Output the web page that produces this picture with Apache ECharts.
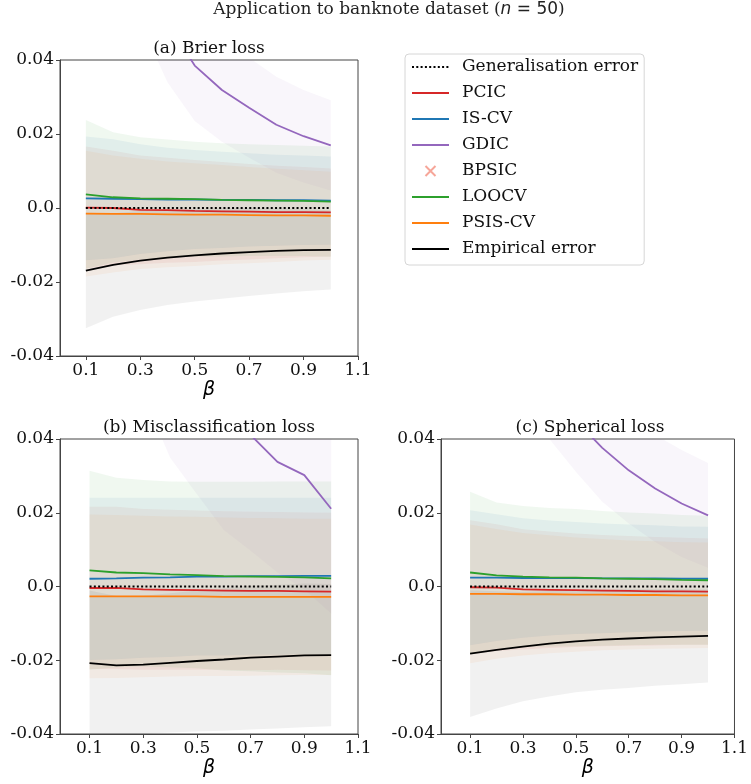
<!DOCTYPE html>
<html>
<head>
<meta charset="utf-8">
<script src="https://cdn.jsdelivr.net/npm/echarts@6/dist/echarts.min.js"></script>
<style>html,body{margin:0;padding:0;background:#fff}#c{width:751px;height:784px}</style>
</head>
<body>
<div id="c"></div>
<script>
const beta = [0.1, 0.2, 0.3, 0.4, 0.5, 0.6, 0.7, 0.8, 0.9, 1.0];
const xTicks = [0.1, 0.3, 0.5, 0.7, 0.9, 1.1];
const yTicks = [-0.04, -0.02, 0, 0.02, 0.04];
const generalisation = [0, 0, 0, 0, 0, 0, 0, 0, 0, 0];

// (a) Brier loss
const pcicA   = [0.0001, 0.0000, -0.0005, -0.0006, -0.0008, -0.0009, -0.0010, -0.0011, -0.0011, -0.0012];
const pcicA_sd = [0.0165, 0.0155, 0.0147, 0.0142, 0.0138, 0.0133, 0.0129, 0.0125, 0.0122, 0.0119];
const iscvA   = [0.0026, 0.0025, 0.0024, 0.0023, 0.0023, 0.0022, 0.0022, 0.0021, 0.0021, 0.0020];
const iscvA_sd = [0.0167, 0.0161, 0.0148, 0.0140, 0.0134, 0.0130, 0.0126, 0.0123, 0.0121, 0.0119];
const gdicA   = [0.16, 0.10, 0.068, 0.050, 0.0385, 0.0319, 0.0271, 0.0225, 0.0194, 0.0169];
const gdicA_sd = [0.030, 0.022, 0.018, 0.016, 0.015, 0.014, 0.0135, 0.013, 0.0125, 0.0122];
const loocvA  = [0.0037, 0.0029, 0.0026, 0.0025, 0.0024, 0.0022, 0.0021, 0.0020, 0.0019, 0.0017];
const loocvA_sd = [0.0201, 0.0176, 0.0165, 0.0160, 0.0155, 0.0153, 0.0151, 0.0150, 0.0149, 0.0149];
const psisA   = [-0.0015, -0.0016, -0.0016, -0.0017, -0.0018, -0.0018, -0.0019, -0.0020, -0.0020, -0.0021];
const psisA_sd = [0.0170, 0.0158, 0.0149, 0.0143, 0.0139, 0.0134, 0.0130, 0.0126, 0.0122, 0.0119];
const empA    = [-0.0169, -0.0154, -0.0142, -0.0134, -0.0128, -0.0123, -0.0119, -0.0116, -0.0114, -0.0113];
const empA_sd = [0.0156, 0.0140, 0.0134, 0.0128, 0.0125, 0.0122, 0.0119, 0.0115, 0.0111, 0.0107];

// (b) Misclassification loss
const pcicB   = [-0.0004, -0.0004, -0.0008, -0.0009, -0.0010, -0.0011, -0.0012, -0.0012, -0.0013, -0.0014];
const pcicB_sd = [0.0220, 0.0220, 0.0218, 0.0217, 0.0216, 0.0215, 0.0215, 0.0214, 0.0214, 0.0214];
const iscvB   = [0.0021, 0.0022, 0.0024, 0.0025, 0.0027, 0.0027, 0.0028, 0.0028, 0.0029, 0.0029];
const iscvB_sd = [0.0220, 0.0219, 0.0217, 0.0216, 0.0214, 0.0214, 0.0213, 0.0213, 0.0212, 0.0212];
const gdicB   = [0.15, 0.12, 0.095, 0.072, 0.058, 0.048, 0.0411, 0.0338, 0.0302, 0.0211];
const gdicB_sd = [0.060, 0.050, 0.043, 0.037, 0.033, 0.0327, 0.0314, 0.030, 0.031, 0.0284];
const loocvB  = [0.0044, 0.0038, 0.0036, 0.0033, 0.0031, 0.0028, 0.0027, 0.0026, 0.0025, 0.0022];
const loocvB_sd = [0.0270, 0.0257, 0.0253, 0.0252, 0.0253, 0.0256, 0.0257, 0.0259, 0.0260, 0.0263];
const psisB   = [-0.0027, -0.0027, -0.0027, -0.0027, -0.0027, -0.0028, -0.0028, -0.0028, -0.0028, -0.0028];
const psisB_sd = [0.0222, 0.0221, 0.0219, 0.0217, 0.0216, 0.0215, 0.0214, 0.0213, 0.0212, 0.0212];
const empB    = [-0.0208, -0.0214, -0.0212, -0.0207, -0.0202, -0.0198, -0.0193, -0.0190, -0.0187, -0.0186];
const empB_sd = [0.0197, 0.0188, 0.0187, 0.0189, 0.0191, 0.0193, 0.0195, 0.0195, 0.0195, 0.0193];

// (c) Spherical loss
const pcicC   = [-0.0002, -0.0003, -0.0008, -0.0009, -0.0010, -0.0011, -0.0012, -0.0013, -0.0013, -0.0014];
const pcicC_sd = [0.0182, 0.0172, 0.0163, 0.0158, 0.0154, 0.0151, 0.0149, 0.0147, 0.0145, 0.0144];
const iscvC   = [0.0024, 0.0024, 0.0023, 0.0023, 0.0023, 0.0022, 0.0022, 0.0022, 0.0021, 0.0021];
const iscvC_sd = [0.0183, 0.0172, 0.0162, 0.0156, 0.0152, 0.0149, 0.0146, 0.0144, 0.0142, 0.0141];
const gdicC   = [0.14, 0.095, 0.07, 0.055, 0.045, 0.0376, 0.0315, 0.0266, 0.0225, 0.0193];
const gdicC_sd = [0.025, 0.020, 0.016, 0.015, 0.0139, 0.0146, 0.0144, 0.0145, 0.0145, 0.0142];
const loocvC  = [0.0038, 0.0030, 0.0027, 0.0025, 0.0024, 0.0022, 0.0021, 0.0020, 0.0018, 0.0017];
const loocvC_sd = [0.0219, 0.0198, 0.0191, 0.0188, 0.0186, 0.0183, 0.0180, 0.0178, 0.0176, 0.0175];
const psisC   = [-0.0020, -0.0020, -0.0021, -0.0021, -0.0022, -0.0022, -0.0023, -0.0023, -0.0024, -0.0024];
const psisC_sd = [0.0188, 0.0176, 0.0166, 0.0160, 0.0155, 0.0151, 0.0148, 0.0146, 0.0144, 0.0143];
const empC    = [-0.0182, -0.0172, -0.0163, -0.0155, -0.0149, -0.0144, -0.0141, -0.0138, -0.0136, -0.0134];
const empC_sd = [0.0172, 0.0159, 0.0148, 0.0143, 0.0138, 0.0136, 0.0134, 0.0131, 0.0129, 0.0126];

const panelTitles = ['(a) Brier loss', '(b) Misclassification loss', '(c) Spherical loss'];
const legendNames = ['Generalisation error', 'PCIC', 'IS-CV', 'GDIC', 'BPSIC', 'LOOCV', 'PSIS-CV', 'Empirical error'];

const panels = [
  {pcic: [pcicA, pcicA_sd], iscv: [iscvA, iscvA_sd], gdic: [gdicA, gdicA_sd], loocv: [loocvA, loocvA_sd], psis: [psisA, psisA_sd], emp: [empA, empA_sd]},
  {pcic: [pcicB, pcicB_sd], iscv: [iscvB, iscvB_sd], gdic: [gdicB, gdicB_sd], loocv: [loocvB, loocvB_sd], psis: [psisB, psisB_sd], emp: [empB, empB_sd]},
  {pcic: [pcicC, pcicC_sd], iscv: [iscvC, iscvC_sd], gdic: [gdicC, gdicC_sd], loocv: [loocvC, loocvC_sd], psis: [psisC, psisC_sd], emp: [empC, empC_sd]}
];
const methods = [
  {key: 'pcic', name: 'PCIC', color: '#d62728', band: 'rgba(214,39,40,0.065)'},
  {key: 'iscv', name: 'IS-CV', color: '#1f77b4', band: 'rgba(31,119,180,0.07)'},
  {key: 'gdic', name: 'GDIC', color: '#9467bd', band: 'rgba(148,103,189,0.06)'},
  {key: 'loocv', name: 'LOOCV', color: '#2ca02c', band: 'rgba(44,160,44,0.07)'},
  {key: 'psis', name: 'PSIS-CV', color: '#ff7f0e', band: 'rgba(255,127,14,0.06)'},
  {key: 'emp', name: 'Empirical error', color: '#000000', band: 'rgba(0,0,0,0.055)'}
];

const grids = [
  {left: 60, top: 60, width: 298, height: 296},
  {left: 60, top: 439, width: 298, height: 295},
  {left: 441, top: 439, width: 298, height: 295}
];
const xMins = [0.005, -0.01, -0.01];

const axisColor = '#444';
const serif = 'DejaVu Serif';

const xAxes = grids.map((g, i) => ({
  type: 'value', gridIndex: i, min: xMins[i], max: 1.1,
  name: 'β', nameLocation: 'middle', nameGap: 25,
  nameTextStyle: {fontFamily: 'DejaVu Sans', fontStyle: 'italic', fontSize: 19, color: '#000'},
  axisLine: {show: true, onZero: false, lineStyle: {color: axisColor, width: 1}},
  axisTick: {show: true, length: 4, lineStyle: {color: axisColor}, customValues: xTicks},
  axisLabel: {fontFamily: serif, fontSize: 17, color: '#111', margin: 6, customValues: xTicks,
              formatter: v => v.toFixed(1)},
  splitLine: {show: false}
}));
const yAxes = grids.map((g, i) => ({
  type: 'value', gridIndex: i, min: -0.04, max: 0.04, interval: 0.02,
  axisLine: {show: true, onZero: false, lineStyle: {color: axisColor, width: 1}},
  axisTick: {show: true, length: 4, lineStyle: {color: axisColor}},
  axisLabel: {fontFamily: serif, fontSize: 17, color: '#111', margin: 6,
              formatter: v => Math.abs(v) < 1e-9 ? '0.0' : v.toFixed(2)},
  splitLine: {show: false}
}));

function bandSeries(gi, c, sd, color) {
  const data = beta.map((b, i) => [b, c[i] - sd[i], c[i] + sd[i]]);
  return {
    type: 'custom', xAxisIndex: gi, yAxisIndex: gi, silent: true, z: 1, clip: true,
    encode: {x: 0, y: [1, 2]},
    data: data,
    renderItem: (params, api) => {
      if (params.dataIndex !== 0) return null;
      const upper = data.map(d => api.coord([d[0], d[2]]));
      const lower = data.map(d => api.coord([d[0], d[1]])).reverse();
      const cs = params.coordSys;
      return {
        type: 'polygon',
        shape: {points: upper.concat(lower)},
        style: {fill: color},
        clipPath: {type: 'rect', shape: {x: cs.x, y: cs.y, width: cs.width, height: cs.height}}
      };
    }
  };
}

const series = [];
panels.forEach((p, gi) => {
  methods.forEach(m => {
    series.push(bandSeries(gi, p[m.key][0], p[m.key][1], m.band));
  });
  methods.forEach(m => {
    const c = p[m.key][0];
    series.push({
      type: 'line', name: m.name, xAxisIndex: gi, yAxisIndex: gi,
      symbol: 'none', z: 3, color: m.color,
      lineStyle: {color: m.color, width: 1.8},
      data: beta.map((b, i) => [b, c[i]])
    });
  });
  series.push({
    type: 'line', name: 'Generalisation error', xAxisIndex: gi, yAxisIndex: gi,
    symbol: 'none', z: 4, color: '#000',
    lineStyle: {color: '#000', width: 2, type: [2, 2.3], cap: 'butt'},
    data: beta.map((b, i) => [b, generalisation[i]])
  });
});
const crossIcon = 'path://M0,0M14,14M2,2L12,12M12,2L2,12';
series.push({
  type: 'scatter', name: 'BPSIC', xAxisIndex: 0, yAxisIndex: 0, data: [],
  symbol: crossIcon, symbolSize: 14, color: '#f4907f',
  itemStyle: {color: 'none', borderColor: '#f4907f', borderWidth: 1.1}
});

const titleGraphics = [
  {type: 'text', x: 389, y: 10, style: {
    text: '{r|Application to banknote dataset (}{i|n}{m| = 50}{r|)}',
    align: 'center', verticalAlign: 'middle',
    rich: {
      r: {fontFamily: serif, fontSize: 17, fill: '#222'},
      i: {fontFamily: 'DejaVu Sans', fontStyle: 'italic', fontSize: 17, fill: '#222'},
      m: {fontFamily: 'DejaVu Sans', fontSize: 17, fill: '#222'}
    }
  }},
  {type: 'text', x: 209, y: 49, style: {text: panelTitles[0], align: 'center', verticalAlign: 'middle', fontFamily: serif, fontSize: 17, fill: '#111'}},
  {type: 'text', x: 209, y: 428, style: {text: panelTitles[1], align: 'center', verticalAlign: 'middle', fontFamily: serif, fontSize: 17, fill: '#111'}},
  {type: 'text', x: 590, y: 428, style: {text: panelTitles[2], align: 'center', verticalAlign: 'middle', fontFamily: serif, fontSize: 17, fill: '#111'}}
];

const legendData = legendNames.map(n => n === 'BPSIC' ? {name: n, icon: crossIcon} : {name: n, itemStyle: {opacity: 0}});

const option = {
  animation: false,
  backgroundColor: '#fff',
  grid: grids.map(g => Object.assign({show: true, borderColor: axisColor, borderWidth: 1, backgroundColor: 'transparent', containLabel: false}, g)),
  xAxis: xAxes,
  yAxis: yAxes,
  legend: {
    data: legendData, orient: 'vertical', left: 405, top: 54,
    padding: [3, 6, 6, 6], itemGap: 6, itemWidth: 37, itemHeight: 14,
    borderColor: '#d6d6d6', borderWidth: 1, borderRadius: 4, backgroundColor: '#fff',
    selectedMode: false,
    textStyle: {fontFamily: serif, fontSize: 17, color: '#111', lineHeight: 20, padding: [0, 0, 0, 8]}
  },
  graphic: titleGraphics,
  series: series
};

const chart = echarts.init(document.getElementById('c'), null, {renderer: 'canvas'});
chart.setOption(option);
</script>
</body>
</html>
